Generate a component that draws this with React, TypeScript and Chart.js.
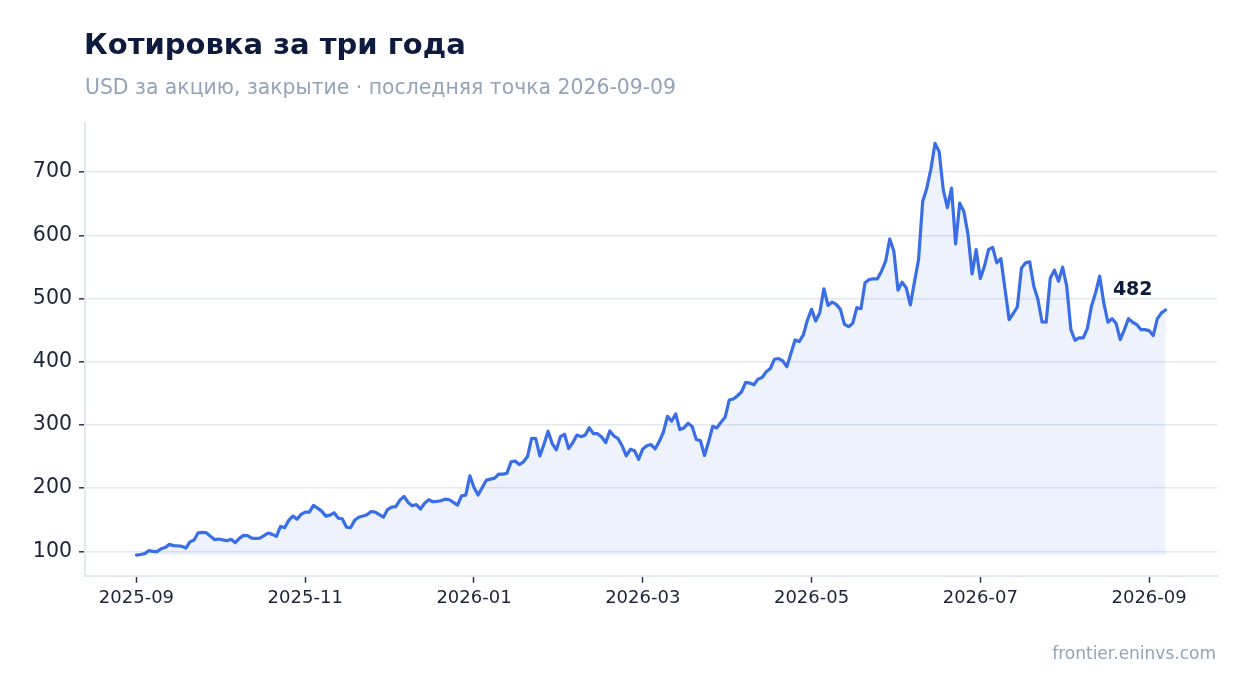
import React, { useEffect, useRef } from "react";
import { Chart, registerables } from "chart.js";

Chart.register(...registerables);

const TITLE = "Котировка за три года";
const SUBTITLE = "USD за акцию, закрытие · последняя точка 2026-09-09";
const WATERMARK = "frontier.eninvs.com";

// Closing prices, one per sample (2025-09 .. 2026-09-09)
const closePrices: number[] = [
  94, 95, 96.3, 101, 100, 99.5, 104, 106, 111, 109,
  108.5, 108, 105, 115, 118, 129.4, 130, 129.4, 123.7, 118.4,
  119.5, 118, 116.8, 119, 113.7, 120.5, 125.2, 124.7, 121, 120.5,
  121, 124.7, 129, 126.8, 123.7, 139.4, 137.3, 149, 155.7, 151,
  158.4, 162, 162, 172.6, 168.4, 163.6, 155.7, 157.3, 161, 152.6,
  151.5, 138.4, 137.3, 149, 154, 156, 157.8, 163, 162, 158,
  154, 166, 170, 170.6, 181, 186.9, 177.4, 172, 174, 167,
  176, 181.6, 178.4, 179, 180, 182.6, 181.6, 177.4, 173.2, 188,
  189, 219.5, 201, 189, 201, 212.6, 214.2, 215.8, 222, 222,
  223.7, 241.5, 243, 237.3, 241.5, 250, 278.9, 278.3, 251, 269.4,
  290, 270.5, 260.5, 281.5, 285.2, 262.6, 272, 284, 281.5, 283.6,
  295.7, 286.2, 286.2, 281, 272, 290.4, 282.5, 278.3, 266.8, 251,
  261.5, 259, 245.7, 262, 267, 269, 262, 273.7, 288.4, 313.7,
  305.8, 317.3, 292.6, 295.3, 302.6, 297.4, 276.9, 275.3, 251.7, 273.7,
  297.9, 295.3, 304.2, 312.1, 339.4, 341, 346.2, 352.5, 367.3, 366.2,
  363.6, 372.5, 375.1, 384.1, 389.3, 404, 405.1, 401.4, 392, 413.5,
  434.5, 431.9, 442.4, 466, 482.9, 464.5, 477.6, 515.5, 489.2, 494.4,
  490.8, 482.9, 459.2, 455.5, 460.8, 485.5, 483.9, 524.9, 530.2, 531.2,
  531.2, 543.3, 559.1, 594.3, 574.8, 513.3, 526, 517, 490, 526,
  561.7, 653.6, 674.7, 705, 745.7, 732.5, 671.9, 644, 674.7, 586.4,
  651, 638, 602, 539, 577.4, 531.7, 551, 577.4, 581, 556.5,
  563, 515, 466.8, 476.3, 486.8, 548.5, 556.5, 558, 519.5, 498.4,
  463, 462.5, 532.7, 544.9, 527.4, 549.6, 519.5, 450.9, 434, 437.7,
  437.7, 452.5, 487.9, 509, 535.4, 493.1, 462.5, 468.3, 460.4, 435.1,
  450.9, 468.3, 462.5, 458.8, 450.9, 450.9, 449.3, 441.4, 467.8, 477.3,
  482,
];

// Sample index of the first sample of each labelled month
const monthTickIndex: number[] = [0, 41, 82, 123, 164, 205, 246];
const monthTickLabels: string[] = [
  "2025-09",
  "2025-11",
  "2026-01",
  "2026-03",
  "2026-05",
  "2026-07",
  "2026-09",
];
const priceTicks: number[] = [100, 200, 300, 400, 500, 600, 700];

const LINE_COLOR = "#3a6ee6";
const FILL_COLOR = "rgba(58,110,230,0.09)";
const GRID_COLOR = "#e2e8f0";
const TICK_TEXT = "#1c2438";
const TITLE_COLOR = "#0d1b3e";
const MUTED = "#94a3b8";
const FONT = "'DejaVu Sans', sans-serif";

export default function App() {
  const canvasRef = useRef<HTMLCanvasElement | null>(null);

  useEffect(() => {
    const canvas = canvasRef.current;
    if (!canvas) return;

    const n = closePrices.length;
    const minV = Math.min(...closePrices);
    const maxV = Math.max(...closePrices);
    const yPad = (maxV - minV) * 0.05;
    const xPad = (n - 1) * 0.05;

    const textPlugin = {
      id: "textPlugin",
      afterDraw(chart: any) {
        const ctx = chart.ctx;
        const area = chart.chartArea;
        ctx.save();
        ctx.textBaseline = "alphabetic";
        ctx.textAlign = "left";
        ctx.fillStyle = TITLE_COLOR;
        ctx.font = `bold 29px ${FONT}`;
        ctx.fillText(TITLE, area.left - 1, 54.3);
        ctx.fillStyle = MUTED;
        ctx.font = `20.4px ${FONT}`;
        ctx.fillText(SUBTITLE, area.left, 94);

        // last value label
        const xs = chart.scales.x;
        const ys = chart.scales.y;
        const lastIdx = n - 1;
        const lastVal = closePrices[lastIdx];
        const px = xs.getPixelForValue(lastIdx);
        const py = ys.getPixelForValue(lastVal);
        ctx.fillStyle = TITLE_COLOR;
        ctx.font = `bold 19px ${FONT}`;
        ctx.textAlign = "right";
        ctx.fillText(String(Math.round(lastVal)), px - 13, py - 15);

        // watermark
        ctx.fillStyle = MUTED;
        ctx.font = `17px ${FONT}`;
        ctx.textAlign = "right";
        ctx.fillText(WATERMARK, chart.width - 31, 658.5);
        ctx.restore();
      },
    };

    const chart = new Chart(canvas, {
      type: "line",
      data: {
        datasets: [
          {
            data: closePrices.map((v, i) => ({ x: i, y: v })),
            borderColor: LINE_COLOR,
            borderWidth: 3.2,
            backgroundColor: FILL_COLOR,
            fill: { value: minV },
            pointRadius: 0,
            tension: 0,
            borderJoinStyle: "round",
            borderCapStyle: "round",
          },
        ],
      },
      options: {
        responsive: false,
        animation: false,
        devicePixelRatio: window.devicePixelRatio || 1,
        layout: { padding: { left: 0, right: 30, top: 122.7, bottom: 0 } },
        plugins: {
          legend: { display: false },
          tooltip: { enabled: false },
          title: { display: false },
        },
        scales: {
          x: {
            type: "linear",
            min: -xPad,
            max: n - 1 + xPad,
            afterFit: (s: any) => {
              s.height = 117.3;
            },
            afterBuildTicks: (s: any) => {
              s.ticks = monthTickIndex.map((v) => ({ value: v }));
            },
            ticks: {
              autoSkip: false,
              maxRotation: 0,
              minRotation: 0,
              padding: 4.5,
              color: TICK_TEXT,
              font: { family: FONT, size: 18 },
              callback: (value: any) => {
                const k = monthTickIndex.indexOf(Number(value));
                return k >= 0 ? monthTickLabels[k] : "";
              },
            },
            grid: {
              display: true,
              drawOnChartArea: false,
              drawTicks: true,
              tickLength: 7,
              tickColor: "#2b3345",
              tickWidth: 1.5,
            },
            border: { display: true, color: GRID_COLOR, width: 2 },
          },
          y: {
            type: "linear",
            min: minV - yPad,
            max: maxV + yPad,
            afterFit: (s: any) => {
              s.width = 85;
            },
            afterBuildTicks: (s: any) => {
              s.ticks = priceTicks.map((v) => ({ value: v }));
            },
            ticks: {
              padding: 7,
              color: TICK_TEXT,
              font: { family: FONT, size: 20.5 },
              callback: (value: any) => String(value),
            },
            grid: {
              display: true,
              drawOnChartArea: true,
              drawTicks: true,
              tickLength: 6,
              color: GRID_COLOR,
              lineWidth: 1.6,
              tickColor: "#2b3345",
              tickWidth: 1.5,
            },
            border: { display: true, color: GRID_COLOR, width: 2 },
          },
        },
      },
      plugins: [textPlugin],
    } as any);

    return () => {
      chart.destroy();
    };
  }, []);

  return (
    <div
      style={{
        position: "absolute",
        left: 0,
        top: 0,
        width: 1247,
        height: 693,
        background: "#ffffff",
      }}
    >
      <canvas ref={canvasRef} width={1247} height={693} />
    </div>
  );
}
